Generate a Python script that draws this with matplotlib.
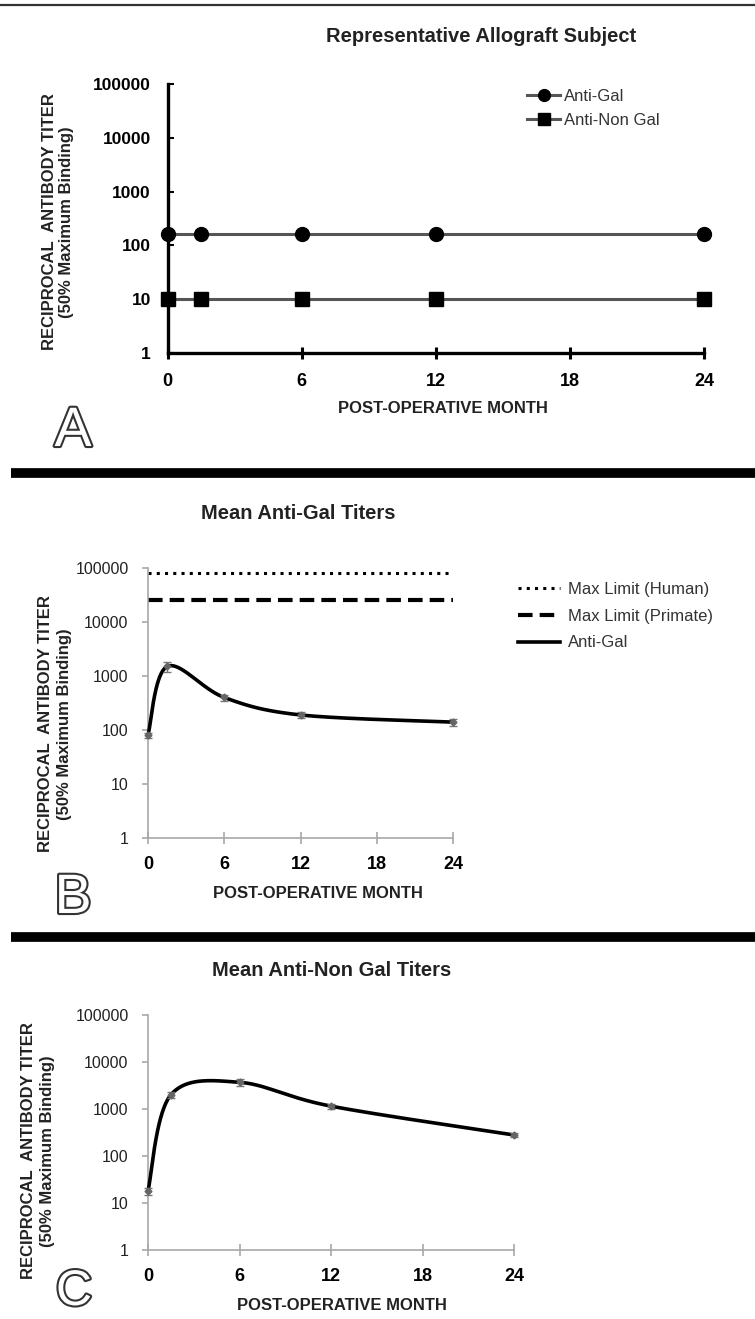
import matplotlib
matplotlib.use('Agg')
from matplotlib import pyplot as plt
from matplotlib.lines import Line2D
import matplotlib.patheffects as pe
import numpy as np

plt.rcParams['font.family'] = ['Liberation Sans', 'DejaVu Sans']

# data
months = [0, 1.5, 6, 12, 24]
allo_anti_gal = [160, 160, 160, 160, 160]
allo_anti_non_gal = [10, 10, 10, 10, 10]

mean_anti_gal = [80, 1500, 400, 190, 140]
mean_anti_gal_err = [8, 300, 50, 25, 20]
max_limit_human = 81920
max_limit_primate = 25600

mean_anti_non_gal = [18, 2000, 3700, 1150, 280]
mean_anti_non_gal_err = [3, 250, 600, 150, 30]

xticks = [0, 6, 12, 18, 24]
yticks = [1, 10, 100, 1000, 10000, 100000]
ytick_labels = ['1', '10', '100', '1000', '10000', '100000']

W, H = 755, 1319
fig = plt.figure(figsize=(W / 100, H / 100), dpi=100)


def box(left, top, right, bottom):
    return [left / W, 1 - bottom / H, (right - left) / W, (bottom - top) / H]


def smooth(x, y, n=40):
    """curva suavizada tipo Excel (Catmull-Rom) em escala log"""
    x = np.asarray(x, float)
    ly = np.log10(y)
    px = np.concatenate([[x[0]], x, [x[-1]]])
    py = np.concatenate([[ly[0]], ly, [ly[-1]]])
    xs, ys = [], []
    t = np.linspace(0, 1, n)
    for i in range(1, len(px) - 2):
        p0 = np.array([px[i], py[i]])
        p3 = np.array([px[i + 1], py[i + 1]])
        c1 = p0 + (np.array([px[i + 1], py[i + 1]]) - np.array([px[i - 1], py[i - 1]])) / 6
        c2 = p3 - (np.array([px[i + 2], py[i + 2]]) - np.array([px[i], py[i]])) / 6
        b = ((1 - t) ** 3)[:, None] * p0 + (3 * (1 - t) ** 2 * t)[:, None] * c1 \
            + (3 * (1 - t) * t ** 2)[:, None] * c2 + (t ** 3)[:, None] * p3
        xs.append(b[:, 0])
        ys.append(b[:, 1])
    return np.concatenate(xs), 10 ** np.concatenate(ys)


def common_axis(ax):
    ax.set_yscale('log')
    ax.set_xlim(0, 24)
    ax.set_ylim(1, 100000)
    ax.set_xticks(xticks)
    ax.set_yticks(yticks)
    ax.set_yticklabels(ytick_labels)
    ax.yaxis.set_minor_locator(matplotlib.ticker.NullLocator())
    ax.spines['right'].set_visible(False)
    ax.spines['top'].set_visible(False)
    ax.patch.set_alpha(0)


def ylabels(xa, xb, yc):
    fig.text(xa / W, 1 - yc / H, 'RECIPROCAL  ANTIBODY TITER', rotation=90,
             ha='center', va='center', fontsize=12, fontweight='bold', color='#222')
    fig.text(xb / W, 1 - yc / H, '(50% Maximum Binding)', rotation=90,
             ha='center', va='center', fontsize=12, fontweight='bold', color='#222')


def panel_letter(x, y, s, size=40):
    fig.text(x / W, 1 - y / H, s, fontsize=size, color='white', ha='center', va='center',
             path_effects=[pe.withStroke(linewidth=3, foreground='#333')])


# linhas de separação
fig.add_artist(Line2D([0, 1], [1 - 5 / H, 1 - 5 / H], color='#333', lw=1.6))
for yy in [473, 937]:
    fig.add_artist(Line2D([11 / W, 1], [1 - yy / H, 1 - yy / H], color='black', lw=7,
                          solid_capstyle='butt'))

# ---------------- painel A ----------------
axA = fig.add_axes(box(167.5, 84, 704, 353))
common_axis(axA)
axA.plot(months, allo_anti_gal, color='#555', lw=2.2, marker='o', ms=10,
         mfc='black', mec='black', clip_on=False, zorder=3, label='Anti-Gal')
axA.plot(months, allo_anti_non_gal, color='#555', lw=2.2, marker='s', ms=9.5,
         mfc='black', mec='black', clip_on=False, zorder=3, label='Anti-Non Gal')
for s in ['left', 'bottom']:
    axA.spines[s].set_linewidth(2.4)
    axA.spines[s].set_color('black')
axA.tick_params(axis='x', direction='inout', length=9, width=2.2, pad=10,
                labelsize=13, colors='black')
axA.tick_params(axis='y', direction='in', length=4, width=1.5, pad=12,
                labelsize=12.5, colors='black')
for lab in axA.get_xticklabels() + axA.get_yticklabels():
    lab.set_fontweight('bold')
axA.set_xlabel('POST-OPERATIVE MONTH', fontsize=12, fontweight='bold', color='#222')
axA.xaxis.set_label_coords(0.513, -0.178)
axA.xaxis.label.set_va('top')
axA.legend(loc='upper left', bbox_to_anchor=(527 / W, 1 - 89 / H),
           bbox_transform=fig.transFigure, frameon=False, borderpad=0,
           borderaxespad=0, handlelength=2.0, handletextpad=0.2,
           labelspacing=0.55, fontsize=12, labelcolor='#333', markerscale=0.85)
fig.text(481 / W, 1 - 36 / H, 'Representative Allograft Subject', ha='center',
         va='center', fontsize=14.5, fontweight='bold', color='#222')
ylabels(50, 67, 222)
panel_letter(73, 432, 'A')

# ---------------- painel B ----------------
axB = fig.add_axes(box(148, 568, 453, 838))
common_axis(axB)
axB.plot([0, 24], [max_limit_human] * 2, color='black', lw=2.2,
         ls=(0, (1, 1.7)), label='Max Limit (Human)')
axB.plot([0, 24], [max_limit_primate] * 2, color='black', lw=3,
         ls=(0, (3.5, 1.7)), solid_capstyle='butt', dash_capstyle='butt',
         label='Max Limit (Primate)')
sx, sy = smooth(months, mean_anti_gal)
axB.plot(sx, sy, color='black', lw=2.6, clip_on=False, label='Anti-Gal', zorder=3)
axB.errorbar(months, mean_anti_gal, yerr=mean_anti_gal_err, fmt='D', ms=3.5,
             color='#666', ecolor='#777', elinewidth=1, capsize=3, clip_on=False,
             zorder=4)

# ---------------- painel C ----------------
axC = fig.add_axes(box(148, 1015, 514, 1250))
common_axis(axC)
sx, sy = smooth(months, mean_anti_non_gal)
axC.plot(sx, sy, color='black', lw=2.6, clip_on=False, zorder=3)
axC.errorbar(months, mean_anti_non_gal, yerr=mean_anti_non_gal_err, fmt='D', ms=3.5,
             color='#666', ecolor='#777', elinewidth=1, capsize=3, clip_on=False,
             zorder=4)

for ax in [axB, axC]:
    for s in ['left', 'bottom']:
        ax.spines[s].set_linewidth(1.2)
        ax.spines[s].set_color('#a8a8a8')
    ax.tick_params(axis='x', direction='inout', length=8, width=1.2, pad=9,
                   labelsize=13, color='#a8a8a8', labelcolor='black')
    ax.tick_params(axis='y', direction='out', length=4, width=1.2, pad=10,
                   labelsize=11.5, color='#a8a8a8', labelcolor='#222')
    for lab in ax.get_xticklabels():
        lab.set_fontweight('bold')
    ax.set_xlabel('POST-OPERATIVE MONTH', fontsize=12, fontweight='bold', color='#222')
    ax.xaxis.label.set_va('top')

axB.xaxis.set_label_coords(0.557, -0.178)
axC.xaxis.set_label_coords(0.53, -0.204)

hB = [Line2D([], [], color='black', lw=2.2, ls=(0, (1, 1.7))),
      Line2D([], [], color='black', lw=3, ls=(0, (3.5, 1.7))),
      Line2D([], [], color='black', lw=2.6)]
axB.legend(hB, ['Max Limit (Human)', 'Max Limit (Primate)', 'Anti-Gal'],
           loc='upper left', bbox_to_anchor=(518 / W, 1 - 582 / H),
           bbox_transform=fig.transFigure, frameon=False, borderpad=0,
           borderaxespad=0, handlelength=2.5, handletextpad=0.5,
           labelspacing=0.7, fontsize=12, labelcolor='#333')

fig.text(298 / W, 1 - 513 / H, 'Mean Anti-Gal Titers', ha='center', va='center',
         fontsize=14.5, fontweight='bold', color='#222')
ylabels(46, 65, 724)
panel_letter(73, 899, 'B')

fig.text(332 / W, 1 - 970 / H, 'Mean Anti-Non Gal Titers', ha='center', va='center',
         fontsize=14.5, fontweight='bold', color='#222')
ylabels(29, 48, 1151)
panel_letter(74, 1292, 'C', size=36)

fig.savefig('out.png', dpi=100, facecolor='white')
